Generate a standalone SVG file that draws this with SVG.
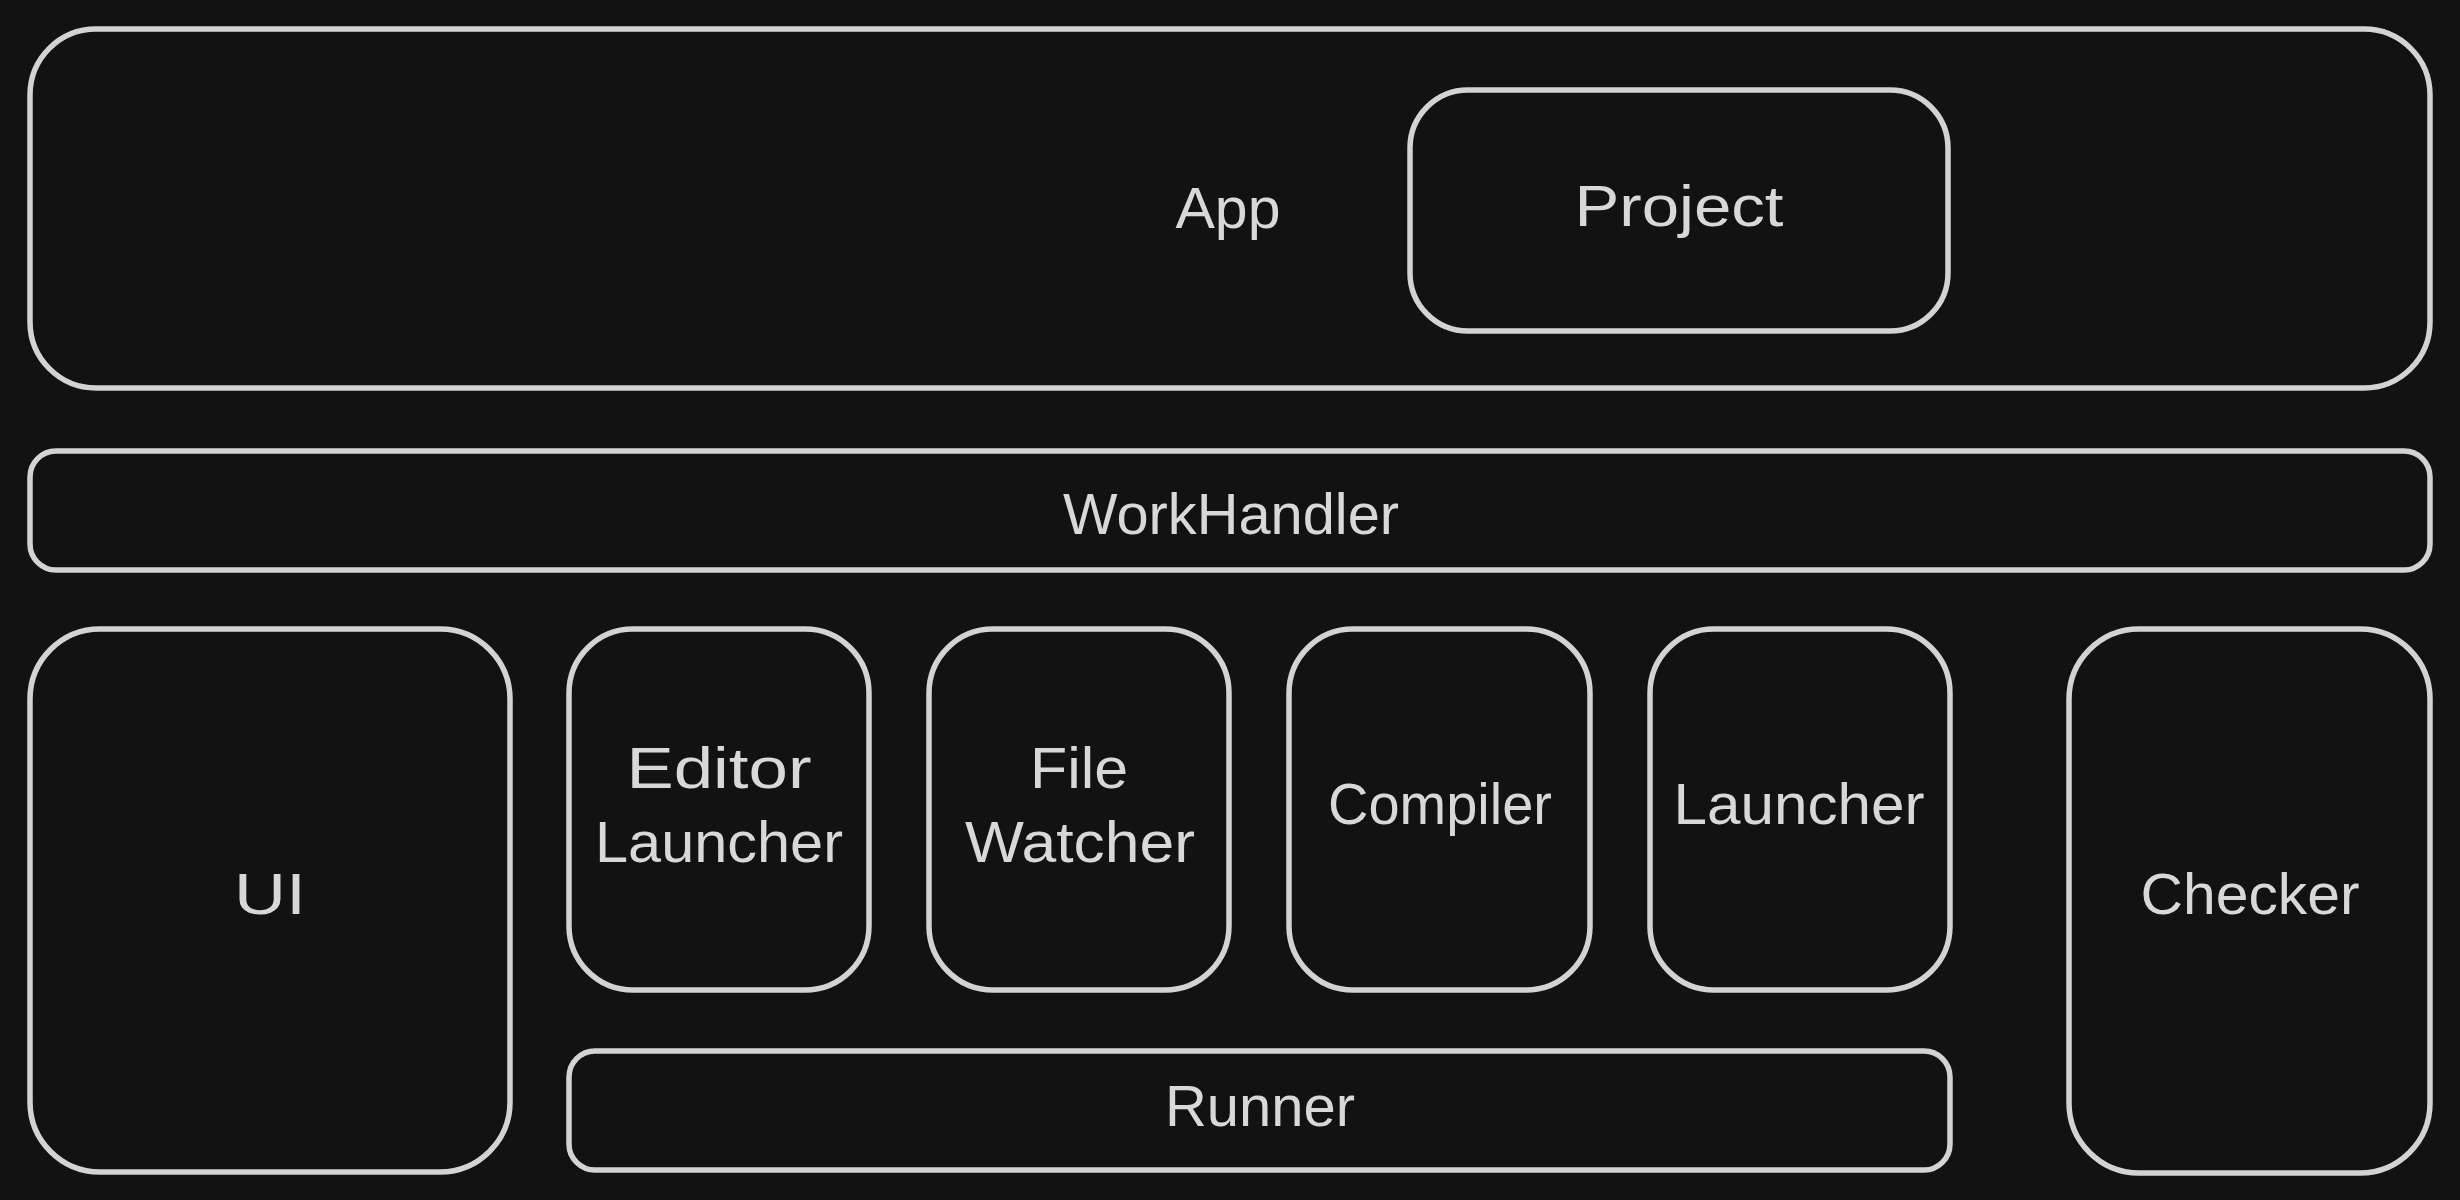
<svg xmlns="http://www.w3.org/2000/svg" width="2460" height="1200" viewBox="0 0 2460 1200">
<style>
.box{fill:none;stroke:#d3d3d3;stroke-width:5.5;stroke-linejoin:round}
.lbl{fill:#d8d8d8;font-family:"Liberation Sans","Noto Sans",sans-serif;font-size:58px;text-anchor:middle}
</style>
<rect width="2460" height="1200" fill="#121212"/>
<g id="app"><rect class="box" x="30" y="29" width="2400" height="359" rx="66"/><text class="lbl" x="1228" y="228" textLength="105" lengthAdjust="spacingAndGlyphs">App</text></g>
<g id="project"><rect class="box" x="1410" y="90" width="538" height="241" rx="58"/><text class="lbl" x="1679" y="226" textLength="209" lengthAdjust="spacingAndGlyphs">Project</text></g>
<g id="workhandler"><rect class="box" x="30" y="451" width="2400" height="119" rx="26"/><text class="lbl" x="1231" y="534" textLength="336" lengthAdjust="spacingAndGlyphs">WorkHandler</text></g>
<g id="ui"><rect class="box" x="30" y="629" width="480" height="543" rx="70"/><text class="lbl" x="270" y="914" textLength="72" lengthAdjust="spacingAndGlyphs">UI</text></g>
<g id="editor-launcher"><rect class="box" x="569" y="629" width="300" height="361" rx="64"/><text class="lbl" x="719" y="788" textLength="185" lengthAdjust="spacingAndGlyphs">Editor</text><text class="lbl" x="719" y="862" textLength="248" lengthAdjust="spacingAndGlyphs">Launcher</text></g>
<g id="file-watcher"><rect class="box" x="929" y="629" width="300" height="361" rx="64"/><text class="lbl" x="1079" y="788" textLength="98" lengthAdjust="spacingAndGlyphs">File</text><text class="lbl" x="1080" y="862" textLength="230" lengthAdjust="spacingAndGlyphs">Watcher</text></g>
<g id="compiler"><rect class="box" x="1289" y="629" width="301" height="361" rx="64"/><text class="lbl" x="1440" y="824" textLength="224" lengthAdjust="spacingAndGlyphs">Compiler</text></g>
<g id="launcher"><rect class="box" x="1650" y="629" width="300" height="361" rx="64"/><text class="lbl" x="1799" y="824" textLength="251" lengthAdjust="spacingAndGlyphs">Launcher</text></g>
<g id="checker"><rect class="box" x="2069" y="629" width="361" height="544" rx="70"/><text class="lbl" x="2250" y="914" textLength="219" lengthAdjust="spacingAndGlyphs">Checker</text></g>
<g id="runner"><rect class="box" x="569" y="1051" width="1381" height="119" rx="26"/><text class="lbl" x="1260" y="1126" textLength="190" lengthAdjust="spacingAndGlyphs">Runner</text></g>
<g id="connectors"></g>
</svg>
